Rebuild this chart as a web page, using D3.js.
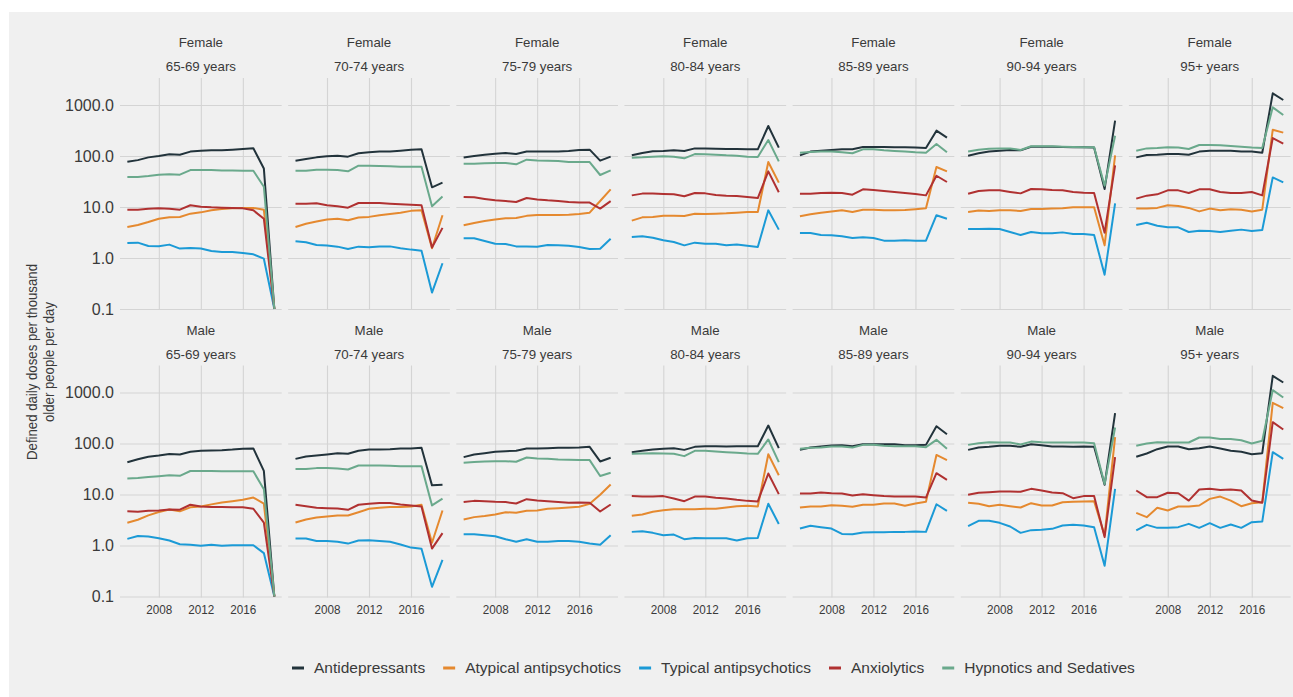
<!DOCTYPE html>
<html>
<head>
<meta charset="utf-8">
<script src="https://cdn.jsdelivr.net/npm/d3@7"></script>
<style>
  body { margin: 0; background: #ffffff; }
  svg text { font-family: "Liberation Sans", Arial, Helvetica, sans-serif; }
</style>
</head>
<body>
<svg id="chart" width="1293" height="697"></svg>
<script>
// ---- Categories and ticks ----
const years = [2005, 2006, 2007, 2008, 2009, 2010, 2011, 2012, 2013, 2014, 2015, 2016, 2017, 2018, 2019];
const drugClasses = ["Antidepressants", "Atypical antipsychotics", "Typical antipsychotics", "Anxiolytics", "Hypnotics and Sedatives"];
const drugColors = ["#22333b", "#e5892f", "#1b9ad6", "#b03131", "#6aa98c"];
const sexes = ["Female", "Male"];
const ageGroups = ["65-69 years", "70-74 years", "75-79 years", "80-84 years", "85-89 years", "90-94 years", "95+ years"];
const yTicks = [0.1, 1, 10, 100, 1000];
const xTicks = [2008, 2012, 2016];

// ---- DDD per 1000 older people per day; rows follow drugClasses order ----
const female_65_69 = [
  [77, 83, 94, 100, 108, 106, 122, 127, 129, 130, 133, 137, 142, 57, 0.1],
  [4.05, 4.43, 5.07, 5.9, 6.27, 6.36, 7.4, 7.85, 8.6, 9.1, 9.4, 9.56, 9.56, 8.87, 0.1],
  [1.97, 2.0, 1.72, 1.70, 1.83, 1.53, 1.57, 1.53, 1.37, 1.31, 1.31, 1.25, 1.18, 0.97, 0.1],
  [8.87, 8.87, 9.27, 9.4, 9.27, 8.87, 10.8, 10.15, 9.85, 9.7, 9.56, 9.4, 8.6, 5.9, 0.1],
  [38.6, 38.6, 40.5, 43, 44, 43, 53, 53, 53, 52.2, 52.2, 51.5, 51.5, 25, 0.1]
];
const female_70_74 = [
  [81, 87, 94, 98.5, 101, 97, 113, 118, 122, 123, 127, 132, 135, 24.3, 30],
  [4.06, 4.7, 5.2, 5.7, 5.9, 5.5, 6.2, 6.4, 6.9, 7.3, 7.7, 8.4, 8.6, 1.55, 6.9],
  [2.12, 2.03, 1.8, 1.75, 1.67, 1.5, 1.67, 1.62, 1.69, 1.69, 1.55, 1.46, 1.39, 0.21, 0.79],
  [11.6, 11.6, 11.8, 10.8, 10.3, 9.7, 11.98, 11.98, 11.98, 11.6, 11.3, 11.1, 10.8, 1.6, 3.9],
  [51.5, 51.5, 54, 54, 53, 50, 64.6, 64.6, 63.6, 62.7, 61.8, 61.8, 61.8, 10.3, 16]
];
const female_75_79 = [
  [93, 100, 106, 111, 114.5, 109, 122, 123, 123, 123, 125, 131, 133, 81, 97],
  [4.37, 4.86, 5.3, 5.7, 5.99, 6.1, 6.7, 6.97, 6.97, 6.97, 7.07, 7.3, 7.74, 13.1, 22.2],
  [2.43, 2.43, 2.15, 1.91, 1.88, 1.69, 1.69, 1.67, 1.8, 1.77, 1.74, 1.64, 1.5, 1.52, 2.39],
  [15.7, 15.5, 14.4, 13.5, 13.1, 12.5, 15, 14.1, 13.5, 13.1, 12.5, 12.3, 12.2, 9.3, 13],
  [70.8, 70.8, 71.9, 72.9, 72.9, 68.6, 84.7, 82, 81, 79.8, 76, 76, 76, 42.4, 52.3]
];
const female_80_84 = [
  [103, 115, 123.5, 125, 129, 125, 141, 141, 139, 137, 137, 135, 135, 387, 146],
  [5.4, 6.27, 6.37, 6.76, 6.76, 6.66, 7.4, 7.3, 7.4, 7.5, 7.74, 7.98, 7.98, 76, 30],
  [2.58, 2.66, 2.5, 2.22, 2.06, 1.77, 2.0, 1.91, 1.91, 1.77, 1.83, 1.74, 1.64, 8.6, 3.6],
  [16.9, 18.3, 18.3, 18, 17.7, 16.2, 18.8, 18.5, 17.2, 16.7, 16.4, 15.7, 15, 50, 19.4],
  [92.7, 94, 97, 98.5, 97, 90, 109, 108, 106, 103, 101.5, 97, 95.6, 206, 78.6]
];
const female_85_89 = [
  [103, 122, 127, 131, 135, 135, 150, 150, 150, 148, 148, 146, 143, 314, 229],
  [6.56, 7.2, 7.74, 8.2, 8.6, 7.98, 8.87, 8.87, 8.6, 8.6, 8.7, 9.0, 9.4, 60.8, 50],
  [3.09, 3.09, 2.83, 2.78, 2.66, 2.47, 2.54, 2.47, 2.19, 2.19, 2.22, 2.19, 2.19, 6.9, 5.9],
  [18.2, 18.2, 18.8, 19.1, 18.8, 17.4, 22.2, 21.5, 20.6, 19.7, 18.8, 17.9, 16.9, 41, 30.9],
  [116, 120, 122, 123, 118, 113, 135, 135, 129, 125, 122, 118, 116, 172, 118]
];
const female_90_94 = [
  [101.5, 113, 122, 127, 131, 129, 152, 152, 152, 150, 148, 148, 146, 22.5, 493],
  [8.0, 8.5, 8.35, 8.6, 8.6, 8.35, 9.1, 9.1, 9.3, 9.4, 9.85, 9.85, 9.85, 1.77, 103],
  [3.7, 3.7, 3.76, 3.7, 3.23, 2.83, 3.23, 3.05, 3.05, 3.18, 2.95, 2.95, 2.83, 0.47, 11.8],
  [18.2, 20.6, 21.2, 21.2, 19.7, 18.5, 22.5, 22.2, 21.5, 21.2, 19.7, 19.1, 18.8, 3.14, 65.6],
  [122, 133, 139, 141, 141, 131, 155, 155, 155, 152, 150, 148, 148, 26, 250]
];
const female_95_plus = [
  [94, 104.6, 106, 109, 109, 106, 122, 127, 127, 127, 123, 122, 116, 1695, 1254],
  [9.3, 9.3, 9.6, 10.8, 10.5, 9.6, 8.2, 9.3, 8.6, 9.0, 8.87, 8.2, 8.87, 328, 287],
  [4.44, 4.93, 4.3, 4.0, 4.0, 3.23, 3.43, 3.38, 3.23, 3.43, 3.6, 3.38, 3.54, 38, 30.5],
  [14.6, 16.7, 17.7, 21.2, 21.2, 18.8, 22.2, 22.2, 19.7, 18.8, 18.8, 19.7, 16.9, 225, 175],
  [127, 141, 143, 148, 146, 137, 164, 164, 162, 157, 152, 146, 143, 900, 637]
];
const male_65_69 = [
  [43, 49, 55, 58, 62, 61, 69, 72, 73, 74, 76, 79, 80, 29, 0.1],
  [2.8, 3.2, 3.9, 4.53, 5.1, 4.67, 5.6, 5.84, 6.4, 7.0, 7.4, 7.9, 8.7, 6.6, 0.1],
  [1.35, 1.54, 1.5, 1.39, 1.25, 1.06, 1.04, 0.985, 1.03, 0.985, 1.01, 1.01, 1.01, 0.71, 0.1],
  [4.67, 4.6, 4.8, 4.88, 5.1, 5.03, 6.3, 5.84, 5.67, 5.67, 5.6, 5.6, 5.26, 2.8, 0.1],
  [20.5, 21, 22, 22.8, 23.8, 23.2, 28.9, 28.9, 28.9, 28.7, 28.5, 28.5, 28.5, 12.7, 0.1]
];
const male_70_74 = [
  [50, 55.7, 58, 61, 64.7, 62.8, 71.8, 76.3, 76.3, 77.5, 79.8, 79.8, 82.3, 15.1, 15.5],
  [2.83, 3.24, 3.55, 3.7, 3.88, 3.88, 4.5, 5.24, 5.5, 5.7, 5.7, 5.8, 6.3, 1.13, 4.86],
  [1.37, 1.37, 1.23, 1.23, 1.18, 1.09, 1.25, 1.27, 1.22, 1.18, 1.05, 0.91, 0.86, 0.155, 0.52],
  [6.3, 5.9, 5.5, 5.4, 5.3, 5.0, 6.3, 6.56, 6.8, 6.8, 6.4, 6.1, 5.8, 0.87, 1.75],
  [31.5, 31.5, 32.9, 32.9, 32.4, 31, 37, 37, 37, 36.6, 36, 36, 36, 6.1, 8.3]
];
const male_75_79 = [
  [54, 61, 64.7, 68.7, 70.8, 71.8, 79.8, 79.8, 81, 82.3, 82.3, 83.5, 86, 44.5, 52.4],
  [3.24, 3.6, 3.77, 4.06, 4.5, 4.38, 4.79, 4.86, 5.24, 5.4, 5.57, 5.74, 6.56, 9.85, 15.7],
  [1.67, 1.67, 1.59, 1.52, 1.33, 1.18, 1.33, 1.18, 1.18, 1.23, 1.23, 1.18, 1.09, 1.03, 1.59],
  [7.1, 7.5, 7.4, 7.2, 7.1, 6.67, 8.1, 7.6, 7.4, 7.1, 6.87, 6.97, 6.87, 4.65, 6.37],
  [41.9, 43.2, 44.5, 45.1, 45.1, 43.8, 53.2, 50.9, 50.1, 48.6, 47.9, 47.3, 47.3, 23, 26.7]
];
const male_80_84 = [
  [67.7, 71.8, 76.3, 78.6, 81, 75, 86, 88.6, 88.6, 87.3, 88.6, 88.6, 88.6, 225, 81],
  [3.82, 4.06, 4.58, 4.93, 5.16, 5.16, 5.16, 5.25, 5.25, 5.57, 5.9, 6.0, 5.8, 61.5, 23.9],
  [1.85, 1.9, 1.77, 1.59, 1.64, 1.33, 1.41, 1.39, 1.39, 1.39, 1.25, 1.39, 1.41, 6.6, 2.65],
  [9.3, 9.1, 9.1, 9.3, 8.35, 7.4, 9.1, 9.1, 8.6, 8.35, 7.87, 7.5, 7.3, 25.8, 10.15],
  [62.8, 63.7, 64.7, 63.7, 62.8, 56.5, 71.8, 71.8, 69.7, 67.7, 65.7, 63.7, 62.8, 120, 43.2]
];
const male_85_89 = [
  [75, 83.5, 87.3, 91.4, 92.8, 88.7, 97, 97, 97, 97, 92.8, 92.8, 94, 218, 152],
  [5.57, 5.82, 5.82, 6.18, 6.0, 5.74, 6.28, 6.28, 6.67, 6.67, 6.0, 6.67, 7.18, 59.7, 47],
  [2.15, 2.43, 2.28, 2.15, 1.69, 1.67, 1.8, 1.82, 1.82, 1.85, 1.85, 1.88, 1.85, 6.44, 4.77],
  [10.5, 10.5, 10.9, 10.6, 10.5, 9.56, 10.15, 9.7, 9.3, 9.1, 9.1, 9.1, 8.7, 26.2, 19.4],
  [78.6, 82.3, 83.5, 87.3, 87.3, 83.5, 94, 94, 90, 88.6, 88.6, 88.6, 84.8, 118, 78.6]
];
const male_90_94 = [
  [75, 83.5, 86, 90, 90, 86, 97, 92.8, 87.3, 87.3, 86, 87.3, 86, 15.5, 393],
  [6.87, 6.56, 5.9, 6.27, 5.9, 5.56, 6.76, 6.08, 6.08, 7.07, 7.18, 7.29, 7.4, 1.57, 133],
  [2.39, 3.05, 3.05, 2.78, 2.36, 1.77, 2.0, 2.03, 2.12, 2.47, 2.54, 2.47, 2.29, 0.4, 12.9],
  [9.85, 10.8, 11.1, 11.45, 11.45, 11.3, 12.9, 11.98, 10.9, 10.6, 8.47, 9.3, 9.3, 1.46, 54],
  [94, 101.5, 106, 104.6, 104.6, 95.6, 109, 106, 104.6, 104.6, 104.6, 104.6, 101.5, 16, 206]
];
const male_95_plus = [
  [54.8, 63.7, 77.4, 87.3, 87.3, 77.4, 81, 87.3, 79.8, 71.8, 68.7, 61.8, 64.7, 2120, 1570],
  [4.37, 3.6, 5.48, 4.86, 5.82, 5.82, 6.08, 8.2, 9.1, 7.6, 5.9, 6.76, 7.07, 627, 493],
  [1.97, 2.54, 2.22, 2.22, 2.29, 2.66, 2.22, 2.74, 2.22, 2.58, 2.22, 2.87, 2.95, 67.6, 50],
  [11.98, 8.87, 8.87, 10.8, 10.6, 7.6, 12.5, 12.9, 12.3, 12.5, 11.98, 7.6, 6.87, 262, 188],
  [90, 100, 106, 104.6, 104.6, 104.6, 131, 131, 122, 122, 116, 100, 113, 1112, 798]
];

const femalePanels = [female_65_69, female_70_74, female_75_79, female_80_84, female_85_89, female_90_94, female_95_plus];
const malePanels = [male_65_69, male_70_74, male_75_79, male_80_84, male_85_89, male_90_94, male_95_plus];
const panelRows = [femalePanels, malePanels];

// ---- Layout ----
const W = 1293, H = 697;
const FONT = '"Liberation Sans", Arial, Helvetica, sans-serif';
const TEXT_COLOR = "#3a3a3a";
const GRID_COLOR = "#d4d4d4";
const panelW = 161.7, panelH = 232;
const colStep = 168.15, rowStep = 287.5;
const left0 = 120, top0 = 78;

const svg = d3.select("#chart");
svg.append("rect").attr("width", W).attr("height", H).attr("fill", "#ffffff");
svg.append("rect").attr("x", 9).attr("y", 12).attr("width", W - 9).attr("height", H - 12).attr("fill", "#f0f0f0");

const x = d3.scaleLinear().domain([2004.3, 2019.7]).range([0, panelW]);
const y = d3.scaleLog().domain([0.0956, 3383]).range([panelH, 0]);

const line = d3.line()
  .x((d, i) => x(years[i]))
  .y(d => y(d));

panelRows.forEach((rowPanels, r) => {
  rowPanels.forEach((series, c) => {
    const px = left0 + c * colStep;
    const py = top0 + r * rowStep;
    const g = svg.append("g").attr("transform", `translate(${px},${py})`);

    // horizontal grid + y labels (first column only)
    g.append("g")
      .call(d3.axisLeft(y)
        .tickValues(yTicks)
        .tickSize(-panelW)
        .tickPadding(6)
        .tickFormat(c === 0 ? d3.format(".1f") : () => ""))
      .call(a => {
        a.attr("font-family", FONT).attr("font-size", 16);
        a.select(".domain").remove();
        a.selectAll(".tick line").attr("stroke", GRID_COLOR).attr("stroke-width", 1.1);
        a.selectAll(".tick text").attr("fill", TEXT_COLOR);
      });

    // vertical grid + x labels (bottom row only)
    g.append("g")
      .attr("transform", `translate(0,${panelH})`)
      .call(d3.axisBottom(x)
        .tickValues(xTicks)
        .tickSize(-panelH)
        .tickPadding(7)
        .tickFormat(r === 1 ? d3.format("d") : () => ""))
      .call(a => {
        a.attr("font-family", FONT).attr("font-size", 13.5);
        a.select(".domain").remove();
        a.selectAll(".tick line").attr("stroke", GRID_COLOR).attr("stroke-width", 1.1);
        a.selectAll(".tick text")
          .attr("fill", TEXT_COLOR)
          .filter(function () { return this.textContent !== ""; })
          .attr("textLength", 26)
          .attr("lengthAdjust", "spacingAndGlyphs");
      });

    // one line per drug class
    g.selectAll("path.series")
      .data(series)
      .join("path")
      .attr("class", "series")
      .attr("d", line)
      .attr("fill", "none")
      .attr("stroke", (d, i) => drugColors[i])
      .attr("stroke-width", 2)
      .attr("stroke-linejoin", "round")
      .attr("stroke-linecap", "butt");

    // facet strip labels
    const cx = panelW / 2;
    g.append("text")
      .attr("x", cx).attr("y", -31.5 + (r === 1 ? 0.5 : 0))
      .attr("text-anchor", "middle")
      .attr("font-family", FONT).attr("font-size", 13.3)
      .attr("fill", TEXT_COLOR)
      .text(sexes[r]);
    g.append("text")
      .attr("x", cx).attr("y", -7.5 + (r === 1 ? 0.5 : 0))
      .attr("text-anchor", "middle")
      .attr("font-family", FONT).attr("font-size", 13.3)
      .attr("fill", TEXT_COLOR)
      .text(ageGroups[c]);
  });
});

// y-axis title (two lines, rotated)
const yTitle = svg.append("text")
  .attr("transform", "translate(37,362) rotate(-90)")
  .attr("text-anchor", "middle")
  .attr("font-family", FONT).attr("font-size", 15.5)
  .attr("fill", TEXT_COLOR);
yTitle.append("tspan").attr("x", 0).attr("y", 0)
  .attr("textLength", 196).attr("lengthAdjust", "spacingAndGlyphs")
  .text("Defined daily doses per thousand");
yTitle.append("tspan").attr("x", 0).attr("y", 17)
  .attr("textLength", 120).attr("lengthAdjust", "spacingAndGlyphs")
  .text("older people per day");

// legend: key line + label, laid out left to right
const legend = svg.append("g").attr("font-family", FONT).attr("font-size", 15.5);
const keyLen = 12, keyGap = 10, itemGap = 18;
let cursor = 0;
drugClasses.forEach((name, i) => {
  const it = legend.append("g");
  it.append("line")
    .attr("x1", 0).attr("x2", keyLen).attr("y1", 0).attr("y2", 0)
    .attr("stroke", drugColors[i]).attr("stroke-width", 3);
  const t = it.append("text")
    .attr("x", keyLen + keyGap).attr("y", 0).attr("dy", "0.35em")
    .attr("fill", TEXT_COLOR).text(name);
  const w = keyLen + keyGap + t.node().getComputedTextLength();
  it.attr("transform", `translate(${cursor},0)`);
  cursor += w + itemGap;
});
legend.attr("transform", "translate(292,668)");
</script>
</body>
</html>
